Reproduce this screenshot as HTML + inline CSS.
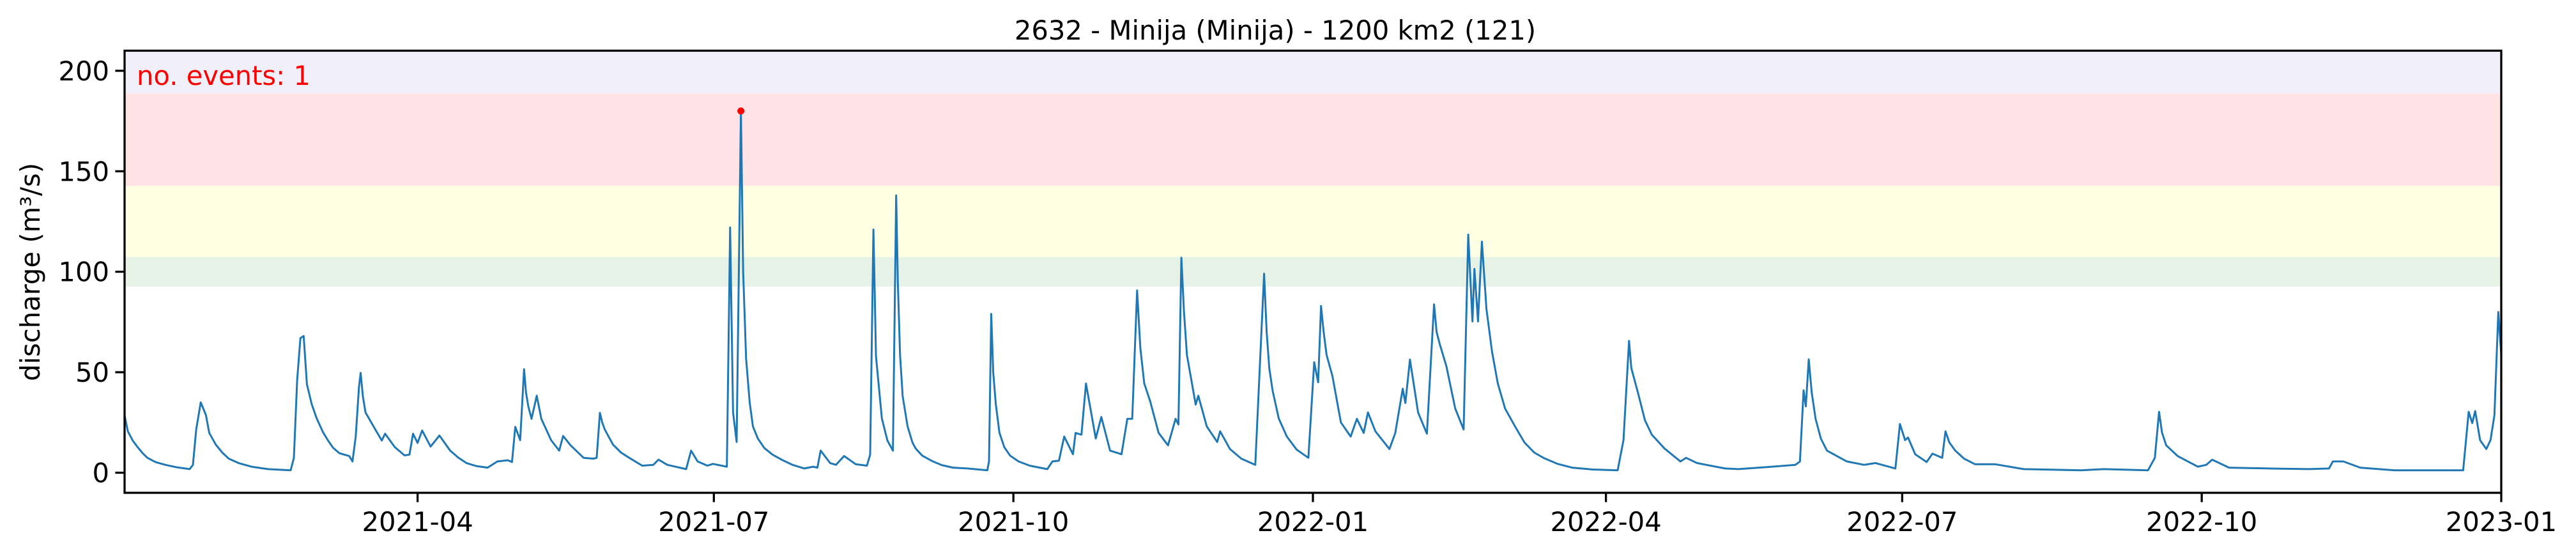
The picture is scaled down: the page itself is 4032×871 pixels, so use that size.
<!DOCTYPE html>
<html><head><meta charset="utf-8"><style>
html,body{margin:0;padding:0;background:#fff;}
svg{display:block;font-family:"DejaVu Sans","Liberation Sans",sans-serif;}
</style></head><body>
<svg id="chart" width="4032" height="871" viewBox="0 0 4032 871" xmlns="http://www.w3.org/2000/svg">
<rect width="4032" height="871" fill="#fff"/>
<text x="1996" y="62" font-size="41.7" text-anchor="middle">2632 - Minija (Minija) - 1200 km2 (121)</text>
<g id="bands"></g>
<g id="series"></g>
<g id="axes"></g>
<text transform="translate(62,426) rotate(-90)" font-size="41.7" text-anchor="middle">discharge (m³/s)</text>
<text x="214" y="133" font-size="41.7" fill="#ff0000">no. events: 1</text>
</svg>
<script>
// ---- data ----
const dayOffsets = [0,1,2.5,4,5.5,7,9.5,12.5,16,20,21,22,23.4,25,26,28,30,32,35,39,44,51,52,53,54,55,56,57.5,59,61,62.5,64,66,69,70,71,72,72.5,73.2,74,77,79,80,83,86,87.5,88.6,90,91.4,94,96.7,100,102.5,105,108,111.5,114.5,117.7,119,120,121.5,122.7,123.3,124,125,126.6,128,131,133.5,134.7,137,141,144,145,146,146.7,147.5,150,152.5,155,159,162.4,164,166.7,172.5,174,176,179,180.7,185,186,186.9,188,189.3,190,190.9,192,193,194.5,196.5,199,201.8,205,208.8,211.5,212.8,213.8,216.7,218.5,221,224.6,228,229,230,230.4,230.8,232.6,234.3,236,237,237.5,238.2,239,240.5,242,243,245,248.3,251,254.5,259,265,265.5,266.2,266.8,267.6,268.7,270.2,272,274.6,278,283.4,285,287,288.6,291.3,292.1,293.9,295.3,298.3,300,302.7,306.2,308,309.5,311,312,313.2,315,317.6,320.5,322.8,323.7,324.6,325.4,326.3,329,329.8,332.4,335.6,336.5,339.5,343,347.3,350,350.8,351.6,352.6,354.5,357,360,363.6,365.4,366.6,367.5,368.3,369.2,371,373.6,376.6,378.5,380.6,381.9,384.2,388.5,390.3,392.6,393.4,394.8,397.3,400,402.2,403,404,406,408.7,411.3,412.7,414,414.6,415.7,416.9,418.3,420,421.8,424,427,430,433,435.8,440,444.6,451,458.6,460.4,462.1,462.8,464.8,467,469.1,473,477.9,479.6,483,491.6,495.7,506,513.2,514.6,515.7,516.4,517.3,518.2,519.4,521,522.9,529,534.3,537.8,543.9,545.3,546.9,547.8,550,553.5,555.3,558.3,559.3,560.5,562.3,565,568.4,574.6,583.3,600.9,607.9,621.5,623.6,624.9,625.8,627.1,630.6,636.8,639.4,641.2,646.4,658.7,671,677.1,678.3,681.5,686.7,697.2,718.3,720,721.1,722,723.5,725.4,726.7,727.9,729.1,730];
const discharge = [28.6,20.6,16,12.7,9.8,7.4,5.3,3.9,2.7,1.8,3.9,21.5,35,28.6,19.8,14,10,7,4.8,3,1.8,1.2,7.4,46,67,68,44,34,27,20,16,12.5,9.7,8.3,5.6,18,42.7,49.7,38,30,21.5,16,19.4,12.7,8.6,9,19.4,14.8,21,13,18.5,11,7.5,4.8,3.3,2.5,5.6,6.2,5.3,22.8,16.2,51.5,40,33,26.8,38.3,26.8,16.2,11,18.3,13.6,7.4,7,7.4,29.8,25,21.5,14,10,7.4,3.5,3.9,6.5,3.9,1.8,11,5.6,3.5,4.4,3,122,30,15.3,180,100,56.8,35,23,17,12.3,9,6.5,4,2.1,3,2.5,11,4.8,3.9,8.3,4.2,3.5,9,121,90,58,27,16,11,138,95,58.5,38,23,15,12,8.5,5.6,3.8,2.5,2.1,1.2,5.6,79,50,34,20,12.7,8.5,5.6,3.5,1.8,5.6,6,18,9.2,19.8,18.9,44.4,17,27.7,11,9.2,26.8,26.8,90.7,62,44.4,35.6,19.8,13.6,26.8,24,107,80,58.6,33.9,38.3,23,15.3,20.6,11.8,7,3.9,99,70,52,41,27,18,11.5,7.4,55,45,83,70,58.6,48,25,18,26.8,19.8,30,20.6,11.8,19.8,41.8,34.7,56.3,30,19.4,83.8,70,63.8,53,32,21.5,118.5,75.3,101.4,75.3,115,81.5,60.3,44.4,32,23.3,15,10,7.4,4.5,2.5,1.6,1.2,16.2,65.6,52,40,26,18.9,12,5.6,7.4,4.8,2.1,1.8,3,3.9,5.6,41,33,56.4,40,26.8,17,11,5.6,3.9,4.8,2.1,24.2,16.2,17.5,9.2,5.3,9.5,7.4,20.6,15,11,7,4.2,4.2,1.8,1.2,1.8,1.2,7.4,30.3,20,13.6,8.3,3,3.9,6.5,2.5,2.1,1.8,2.1,5.6,5.6,2.5,1.2,1.2,30.3,24.7,30.7,16.2,11.8,16.2,28.6,80,58.6];
const eventDays = [189.3];
const eventValues = [180];
const bandLows = [92.6,107.3,142.7,188.7];
const bandHighs = [107.3,142.7,188.7,210];
const bandNames = ['band-green','band-yellow','band-red','band-purple'];
const yTicks = [0,50,100,150,200];
const xTickDays = [90,181,273,365,455,546,638,730];
const xTickLabels = ['2021-04','2021-07','2021-10','2022-01','2022-04','2022-07','2022-10','2023-01'];

// ---- scales ----
const L=195,R=3915,T=79.4,B=772, X0=0,X1=730, Y0=-10,Y1=210;
const xs = d => L + (d-X0)/(X1-X0)*(R-L);
const ys = v => B - (v-Y0)/(Y1-Y0)*(B-T);
const NS='http://www.w3.org/2000/svg';
function mk(tag, attrs, parent){const e=document.createElementNS(NS,tag);for(const k in attrs)e.setAttribute(k,attrs[k]);parent.appendChild(e);return e;}

const bandColors=['rgba(0,128,0,0.1)','rgba(255,255,0,0.11)','rgba(255,0,20,0.11)','rgba(80,50,190,0.08)'];
const gb=document.getElementById('bands');
bandLows.forEach((lo,i)=>{
  const r=mk('rect',{x:L,y:ys(bandHighs[i]),width:R-L,height:ys(lo)-ys(bandHighs[i]),fill:bandColors[i]},gb);
  
  
});

const gs=document.getElementById('series');
const pts=dayOffsets.map((d,i)=>xs(d).toFixed(1)+','+ys(discharge[i]).toFixed(1)).join(' ');
const line=mk('polyline',{points:pts,fill:'none',stroke:'#1f77b4','stroke-width':3,'stroke-linejoin':'round'},gs);


eventDays.forEach((d,i)=>{
  const c=mk('circle',{cx:xs(d),cy:ys(eventValues[i]),r:5.5,fill:'#ff0000'},gs);
  
  
});

const ga=document.getElementById('axes');
yTicks.forEach(v=>{
  const y=ys(v);
  mk('line',{x1:L-14.6,x2:L,y1:y,y2:y,stroke:'#000','stroke-width':3.3},ga);
  const t=mk('text',{x:L-24,y:y+15,'font-size':41.7,'text-anchor':'end'},ga);
  t.textContent=v;
  
  
});
xTickDays.forEach((d,i)=>{
  const x=xs(d);
  mk('line',{x1:x,x2:x,y1:B,y2:B+14.6,stroke:'#000','stroke-width':3.3},ga);
  const t=mk('text',{x:x,y:832,'font-size':41.7,'text-anchor':'middle'},ga);
  t.textContent=xTickLabels[i];
  
  
});
const frame=mk('rect',{x:L,y:T,width:R-L,height:B-T,fill:'none',stroke:'#000','stroke-width':3.3},ga);


</script>
</body></html>
